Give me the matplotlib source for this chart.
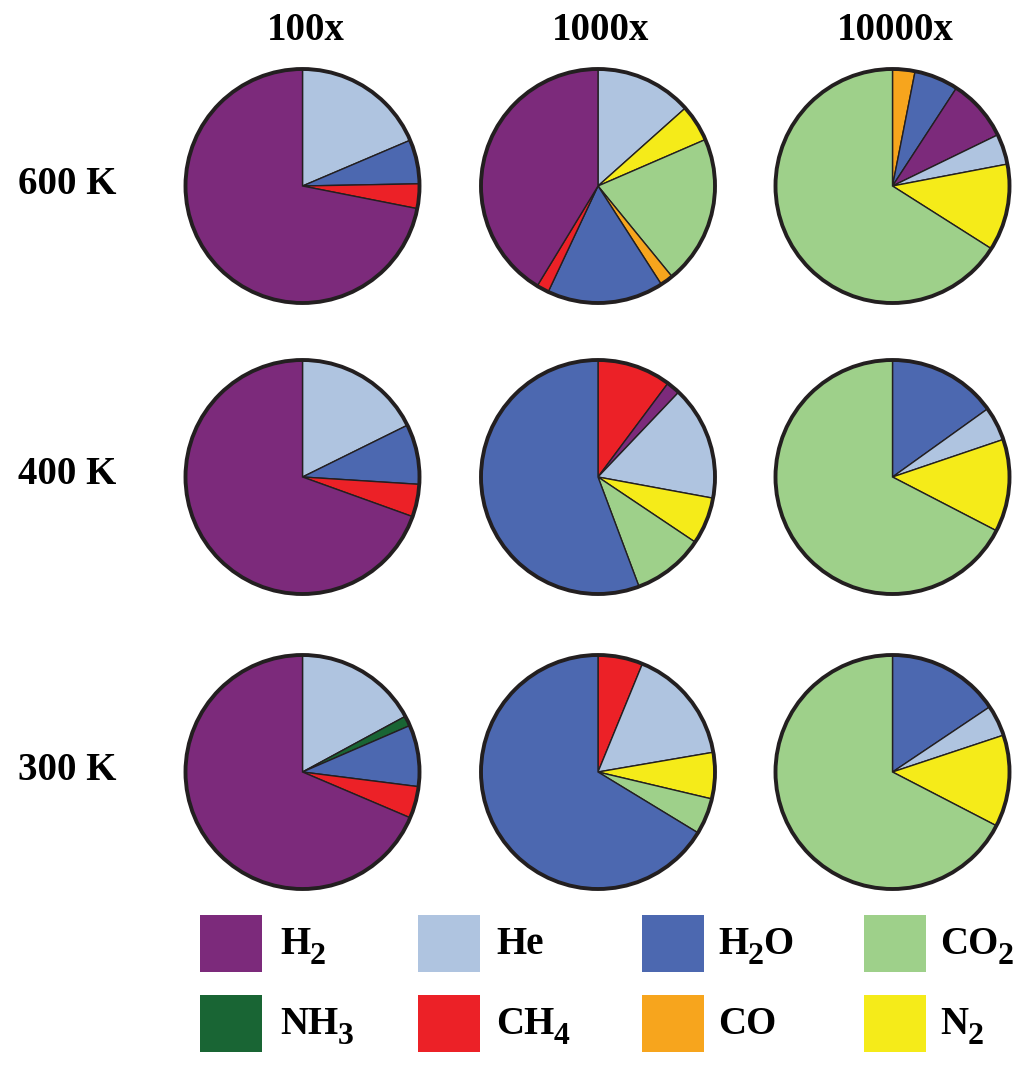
import matplotlib
matplotlib.use("Agg")
import matplotlib.pyplot as plt
from matplotlib.patches import Circle, Rectangle

plt.rcParams['font.family'] = ['Liberation Serif', 'DejaVu Serif']

# ---- data ----
col_labels = ["100x", "1000x", "10000x"]
row_labels = ["600 K", "400 K", "300 K"]

species = ["H2", "He", "H2O", "CO2", "NH3", "CH4", "CO", "N2"]
# legend label pieces: (text, is_subscript)
species_parts = {
    "H2": [("H", False), ("2", True)],
    "He": [("He", False)],
    "H2O": [("H", False), ("2", True), ("O", False)],
    "CO2": [("CO", False), ("2", True)],
    "NH3": [("NH", False), ("3", True)],
    "CH4": [("CH", False), ("4", True)],
    "CO": [("CO", False)],
    "N2": [("N", False), ("2", True)],
}
colors = {"H2": "#7C2A7B", "He": "#AFC4E0", "H2O": "#4C68B0", "CO2": "#9ED08A",
          "NH3": "#196534", "CH4": "#EC2127", "CO": "#F7A51D", "N2": "#F5EB19"}

# slices clockwise from 12 o'clock, percent
p600_100_sp = ["He", "H2O", "CH4", "H2"]
p600_100 = [18.6, 6.1, 3.4, 71.9]
p600_1000_sp = ["He", "N2", "CO2", "CO", "H2O", "CH4", "H2"]
p600_1000 = [13.4, 5.1, 20.6, 1.8, 16.1, 1.7, 41.3]
p600_10000_sp = ["CO", "H2O", "H2", "He", "N2", "CO2"]
p600_10000 = [3.1, 6.1, 8.6, 4.2, 12.0, 66.0]

p400_100_sp = ["He", "H2O", "CH4", "H2"]
p400_100 = [17.7, 8.3, 4.5, 69.5]
p400_1000_sp = ["CH4", "H2", "He", "N2", "CO2", "H2O"]
p400_1000 = [10.2, 1.9, 15.8, 6.5, 9.9, 55.7]
p400_10000_sp = ["H2O", "He", "N2", "CO2"]
p400_10000 = [15.1, 4.7, 12.8, 67.4]

p300_100_sp = ["He", "NH3", "H2O", "CH4", "H2"]
p300_100 = [17.1, 1.4, 8.5, 4.4, 68.6]
p300_1000_sp = ["CH4", "He", "N2", "CO2", "H2O"]
p300_1000 = [6.2, 16.1, 6.4, 5.0, 66.3]
p300_10000_sp = ["H2O", "He", "N2", "CO2"]
p300_10000 = [15.6, 4.3, 12.7, 67.4]

pies = [
    [(p600_100_sp, p600_100), (p600_1000_sp, p600_1000), (p600_10000_sp, p600_10000)],
    [(p400_100_sp, p400_100), (p400_1000_sp, p400_1000), (p400_10000_sp, p400_10000)],
    [(p300_100_sp, p300_100), (p300_1000_sp, p300_1000), (p300_10000_sp, p300_10000)],
]

# ---- layout ----
W, H = 1027, 1069
fig = plt.figure(figsize=(W / 100, H / 100), dpi=100)

col_x = [302.5, 598, 892.5]
row_y = [186, 477, 772]
R = 117.0
half = 128.0
edge = "#231F20"

for i, row in enumerate(pies):
    for j, (sp, vals) in enumerate(row):
        cx, cy = col_x[j], row_y[i]
        ax = fig.add_axes([(cx - half) / W, 1 - (cy + half) / H, 2 * half / W, 2 * half / H])
        ax.pie(vals, colors=[colors[s] for s in sp], startangle=90, counterclock=False,
               radius=1.0, wedgeprops=dict(edgecolor=edge, linewidth=1.0))
        ax.add_patch(Circle((0, 0), 1.0, fill=False, edgecolor=edge, linewidth=2.8, zorder=5))
        lim = half / R
        ax.set_xlim(-lim, lim)
        ax.set_ylim(-lim, lim)
        ax.set_aspect("equal")
        ax.axis("off")

fs = 28
for j, lab in enumerate(col_labels):
    fig.text((col_x[j] + 3) / W, 1 - 30 / H, lab, ha="center", va="center",
             fontsize=fs, fontweight="bold")

for i, lab in enumerate(row_labels):
    fig.text(18 / W, 1 - (row_y[i] - 2) / H, lab, ha="left", va="center",
             fontsize=fs, fontweight="bold")

# legend
sq_x = [200, 418, 642, 864]
sq_y = [915, 995]
sq_w, sq_h = 62, 57
txt_x = [280, 496, 718, 940]
renderer = fig.canvas.get_renderer()
for k, s in enumerate(species):
    r, c = divmod(k, 4)
    x0, y0 = sq_x[c], sq_y[r]
    fig.add_artist(Rectangle((x0 / W, 1 - (y0 + sq_h) / H), sq_w / W, sq_h / H,
                             transform=fig.transFigure, facecolor=colors[s], edgecolor="none"))
    base_y = y0 + sq_h / 2 + 11  # baseline in pixels from top
    xp = txt_x[c]
    for txt, sub in species_parts[s]:
        if sub:
            t = fig.text(xp / W, 1 - (base_y + 9) / H, txt, ha="left", va="baseline",
                         fontsize=fs * 0.82, fontweight="bold")
        else:
            t = fig.text(xp / W, 1 - base_y / H, txt, ha="left", va="baseline",
                         fontsize=fs, fontweight="bold")
        bb = t.get_window_extent(renderer=renderer)
        xp += bb.width - 0.5

fig.savefig("out.png", dpi=100, facecolor="white")
